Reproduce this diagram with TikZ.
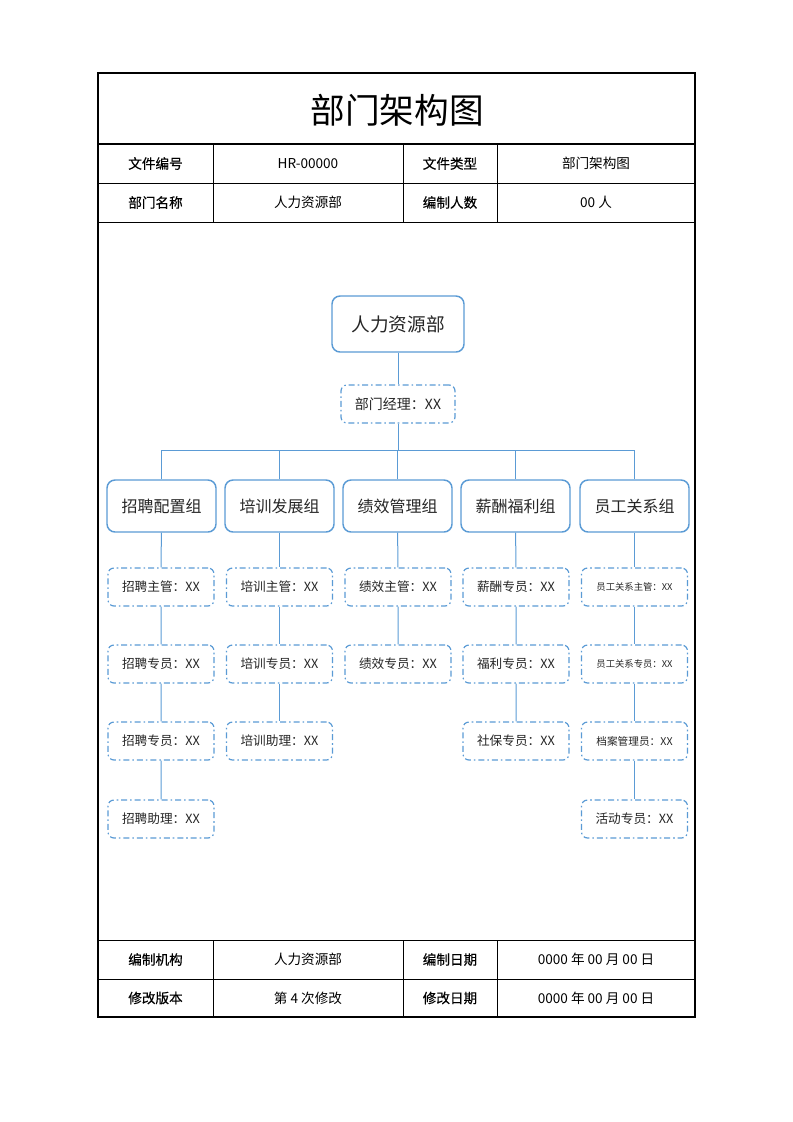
\documentclass[tikz,border=0pt]{standalone}
\usepackage{fontspec}
\setmainfont{Noto Sans CJK SC}
\newfontfamily\medfont[FakeBold=0.4]{Noto Sans CJK SC}
\definecolor{orgblue}{RGB}{91,155,213}
\definecolor{txtgray}{RGB}{38,38,38}
\tikzset{
  cell/.style={font=\fontsize{10.2}{12}\selectfont,text=black},
  cellhead/.style={cell,font=\fontsize{10.2}{12}\selectfont\medfont},
  rootbox/.style={draw=orgblue,line width=1.1pt,rounded corners=6pt,fill=white,
    minimum width=99pt,minimum height=42pt,font=\fontsize{14}{16}\selectfont,text=txtgray},
  groupbox/.style={draw=orgblue,line width=1.1pt,rounded corners=6pt,fill=white,
    minimum width=81.75pt,minimum height=39pt,font=\fontsize{12}{14}\selectfont,text=txtgray},
  staffbox/.style={draw=orgblue,line width=0.9pt,rounded corners=4.5pt,fill=white,
    dash pattern=on 4.5pt off 2.2pt on 1.2pt off 2.2pt,
    minimum width=79.5pt,minimum height=28.5pt,font=\fontsize{9.5}{11}\selectfont,text=txtgray},
  link/.style={draw=orgblue,line width=0.75pt}
}
\begin{document}
\begin{tikzpicture}[x=0.75pt,y=-0.75pt]
  \useasboundingbox (0,0) rectangle (793,1122);
  % table frame
  \draw[line width=0.8pt] (98,144) rectangle (695,1017);
  \draw[line width=1.6pt] (98,73) rectangle (695,144);
  \draw[line width=0.6pt] (98,183) -- (695,183);
  \draw[line width=0.6pt] (98,222) -- (695,222);
  \draw[line width=0.6pt] (98,940) -- (695,940);
  \draw[line width=0.6pt] (98,979) -- (695,979);
  \foreach \x in {213,403,497}{
    \draw[line width=0.6pt] (\x,144) -- (\x,222);
    \draw[line width=0.6pt] (\x,940) -- (\x,1017);
  }
  \node (title) at (397,110) {\fontsize{26}{30}\selectfont 部门架构图};
  % header cells
  \node[cellhead] (fileno) at (155.5,163.5) {文件编号};
  \node[cell] (filenoval) at (308,163.5) {HR-00000};
  \node[cellhead] (filetype) at (450,163.5) {文件类型};
  \node[cell] (filetypeval) at (596,163.5) {部门架构图};
  \node[cellhead] (deptname) at (155.5,202.5) {部门名称};
  \node[cell] (deptnameval) at (308,202.5) {人力资源部};
  \node[cellhead] (headcount) at (450,202.5) {编制人数};
  \node[cell] (headcountval) at (596,202.5) {00 人};
  % footer cells
  \node[cellhead] (maker) at (155.5,959.5) {编制机构};
  \node[cell] (makerval) at (308,959.5) {人力资源部};
  \node[cellhead] (makedate) at (450,959.5) {编制日期};
  \node[cell] (makedateval) at (596,959.5) {0000 年 00 月 00 日};
  \node[cellhead] (version) at (155.5,998) {修改版本};
  \node[cell] (versionval) at (308,998) {第 4 次修改};
  \node[cellhead] (editdate) at (450,998) {修改日期};
  \node[cell] (editdateval) at (596,998) {0000 年 00 月 00 日};

  % chart
  \node[rootbox] (root) at (398,324) {人力资源部};
  \node[staffbox,minimum width=85.5pt,font=\fontsize{10.5}{12}\selectfont] (mgr) at (398,404) {部门经理：XX};
  \coordinate (bar) at (398,450);

  \node[groupbox] (g1) at (161.5,506) {招聘配置组};
  \node[groupbox] (g2) at (279.5,506) {培训发展组};
  \node[groupbox] (g3) at (397.5,506) {绩效管理组};
  \node[groupbox] (g4) at (515.5,506) {薪酬福利组};
  \node[groupbox] (g5) at (634.5,506) {员工关系组};

  \node[staffbox] (s11) at (161,587) {招聘主管：XX};
  \node[staffbox] (s12) at (161,664) {招聘专员：XX};
  \node[staffbox] (s13) at (161,741) {招聘专员：XX};
  \node[staffbox] (s14) at (161,819) {招聘助理：XX};

  \node[staffbox] (s21) at (279.5,587) {培训主管：XX};
  \node[staffbox] (s22) at (279.5,664) {培训专员：XX};
  \node[staffbox] (s23) at (279.5,741) {培训助理：XX};

  \node[staffbox] (s31) at (398,587) {绩效主管：XX};
  \node[staffbox] (s32) at (398,664) {绩效专员：XX};

  \node[staffbox] (s41) at (516,587) {薪酬专员：XX};
  \node[staffbox] (s42) at (516,664) {福利专员：XX};
  \node[staffbox] (s43) at (516,741) {社保专员：XX};

  \node[staffbox,font=\fontsize{7}{8}\selectfont] (s51) at (634.5,587) {员工关系主管：XX};
  \node[staffbox,font=\fontsize{7}{8}\selectfont] (s52) at (634.5,664) {员工关系专员：XX};
  \node[staffbox,font=\fontsize{8}{9}\selectfont] (s53) at (634.5,741) {档案管理员：XX};
  \node[staffbox] (s54) at (634.5,819) {活动专员：XX};

  \draw[link] (root) -- (mgr);
  \draw[link] (mgr) -- (bar);
  \foreach \g in {g1,g2,g3,g4,g5}
    \draw[link] (\g.north) |- (bar);
  \draw[link] (g1) -- (s11) -- (s12) -- (s13) -- (s14);
  \draw[link] (g2) -- (s21) -- (s22) -- (s23);
  \draw[link] (g3) -- (s31) -- (s32);
  \draw[link] (g4) -- (s41) -- (s42) -- (s43);
  \draw[link] (g5) -- (s51) -- (s52) -- (s53) -- (s54);
\end{tikzpicture}
\end{document}
